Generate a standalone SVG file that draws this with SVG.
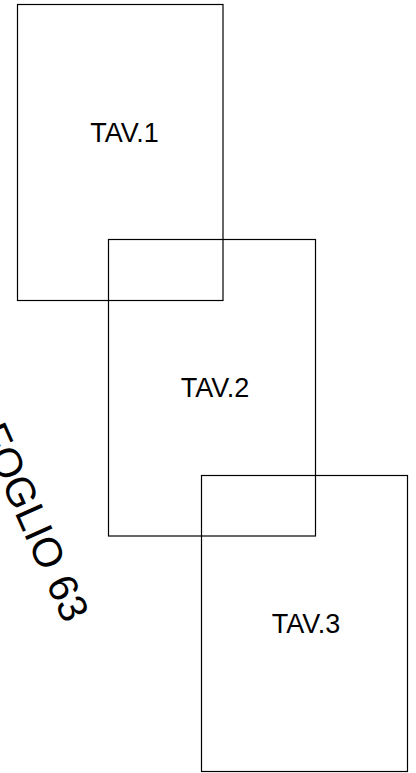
<svg xmlns="http://www.w3.org/2000/svg" width="416" height="773" viewBox="0 0 416 773">
<style>
.sheet{fill:none;stroke:#000;stroke-width:1.2}
.lbl{font-family:"Liberation Sans",Arial,sans-serif;font-size:27px;fill:#000;text-anchor:middle}
.big{font-family:"Liberation Sans",Arial,sans-serif;font-size:41px;fill:#000}
</style>
<rect width="416" height="773" fill="#fff"/>
<g id="foglio">
<text class="big" transform="translate(-22,431) rotate(66)">FOGLIO 63</text>
</g>
<g id="tav1">
<rect class="sheet" x="17.5" y="4.5" width="205.5" height="296"/>
<text class="lbl" x="124.5" y="141.5">TAV.1</text>
</g>
<g id="tav2">
<rect class="sheet" x="108.5" y="239.5" width="207" height="296.5"/>
<text class="lbl" x="215" y="397.3">TAV.2</text>
</g>
<g id="tav3">
<rect class="sheet" x="201.5" y="475.5" width="206" height="296"/>
<text class="lbl" x="306" y="633.3">TAV.3</text>
</g>
<g id="connectors"></g>
</svg>
